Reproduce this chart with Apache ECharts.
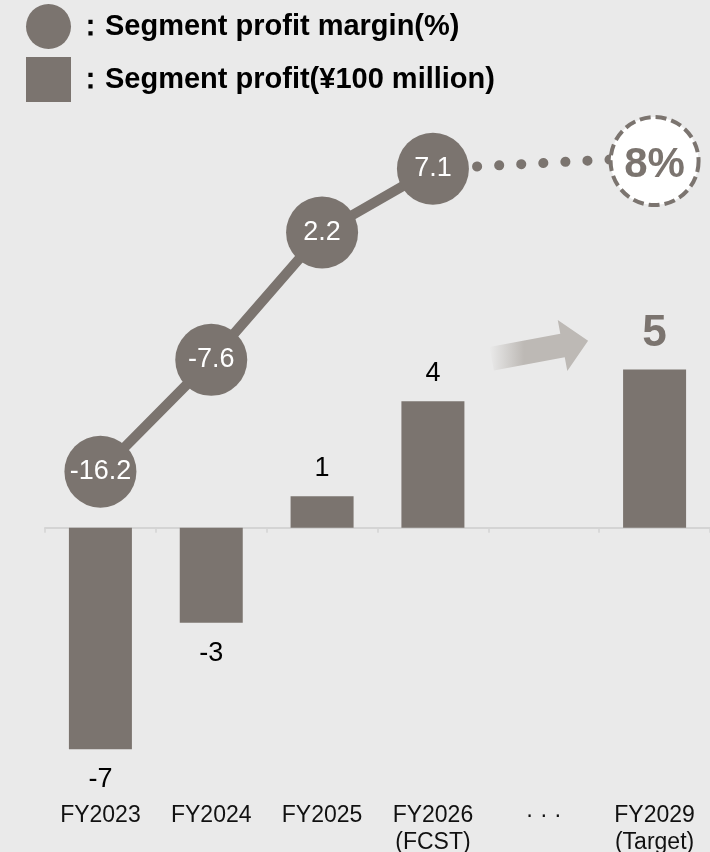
<!DOCTYPE html>
<html>
<head>
<meta charset="utf-8">
<script src="https://cdn.jsdelivr.net/npm/echarts@6.0.0/dist/echarts.min.js"></script>
<style>
  html, body { margin: 0; padding: 0; background: #eaeaea; }
  #chart { width: 710px; height: 852px; }
</style>
</head>
<body>
<div id="chart"></div>
<script>
// data
const categories = ["FY2023", "FY2024", "FY2025", "FY2026\n(FCST)", "· · ·", "FY2029\n(Target)"];
const profit = [-7, -3, 1, 4, null, 5];          // ¥100 million
const margin = [-16.2, -7.6, 2.2, 7.1, null, null]; // %
const targetMargin = [null, null, null, null, null, 8];

const profitName = "Segment profit(¥100 million)";
const marginName = "Segment profit margin(%)";

// arrow annotation, in [category index, profit value]
const arrowFrom = [3.53, 5.34];
const arrowTo = [4.4, 5.91];

const gray = "#7b746f";
const font = "'Liberation Sans', Arial, sans-serif";

const chart = echarts.init(document.getElementById("chart"));

// connector from last actual margin to the target
let lastIdx = margin.reduce((acc, v, i) => (v != null ? i : acc), -1);
let connector = categories.map((c, i) =>
  i === lastIdx ? margin[i] : targetMargin[i] != null ? targetMargin[i] : "-"
);

let barData = profit.map((v, i) => {
  if (v == null) return "-";
  let item = { value: v, label: { position: v < 0 ? "bottom" : "top", distance: v < 0 ? 17 : 14 } };
  if (i === profit.length - 1) {
    item.label.fontSize = 44;
    item.label.fontWeight = "bold";
    item.label.color = gray;
  }
  return item;
});

let option = {
  animation: false,
  backgroundColor: "#eaeaea",
  textStyle: { fontFamily: font },
  legend: {
    orient: "vertical",
    left: 26,
    top: 4,
    padding: 0,
    itemWidth: 45,
    itemHeight: 45,
    itemGap: 8,
    selectedMode: false,
    data: [
      { name: marginName, icon: "circle" },
      { name: profitName, icon: "rect" },
    ],
    formatter: (name) => "：" + name,
    textStyle: { fontSize: 29, fontWeight: "bold", color: "#000", fontFamily: font },
  },
  grid: {
    left: 45,
    right: 0,
    top: 148,
    bottom: 71,
    containLabel: false,
    outerBoundsMode: "none",
  },
  xAxis: [
    {
      type: "category",
      data: categories,
      position: "bottom",
      axisLine: { onZero: true, onZeroAxisIndex: 0, lineStyle: { color: "#d4d4d4", width: 2 } },
      axisTick: { show: true, length: 5, lineStyle: { color: "#d4d4d4", width: 1.5 } },
      axisLabel: { show: false },
      splitLine: { show: false },
    },
    {
      type: "category",
      data: categories,
      position: "bottom",
      axisLine: { show: false, onZero: false },
      axisTick: { show: false },
      axisLabel: {
        interval: 0,
        fontSize: 23,
        lineHeight: 27,
        margin: 21,
        color: "#111",
        fontFamily: font,
      },
    },
  ],
  yAxis: [
    { type: "value", min: -8, max: 12, show: false, splitLine: { show: false } },
    { type: "value", min: -40, max: 8.7, show: false, splitLine: { show: false } },
  ],
  series: [
    {
      name: profitName,
      type: "bar",
      xAxisIndex: 0,
      yAxisIndex: 0,
      barWidth: 63,
      itemStyle: { color: gray },
      label: { show: true, fontSize: 27, color: "#000", fontFamily: font },
      emphasis: { disabled: true },
      data: barData,
      z: 2,
    },
    {
      name: "connector",
      type: "line",
      xAxisIndex: 0,
      yAxisIndex: 1,
      connectNulls: true,
      showSymbol: false,
      symbol: "none",
      lineStyle: { color: gray, width: 10, type: [0.1, 22], cap: "round" },
      emphasis: { disabled: true },
      data: connector,
      z: 3,
    },
    {
      name: marginName,
      type: "line",
      xAxisIndex: 0,
      yAxisIndex: 1,
      symbol: "circle",
      symbolSize: 72,
      showAllSymbol: true,
      lineStyle: { color: gray, width: 10 },
      itemStyle: { color: gray },
      label: { show: true, position: "inside", color: "#fff", fontSize: 27, fontFamily: font },
      emphasis: { disabled: true },
      data: margin.map((v) => (v == null ? "-" : v)),
      z: 4,
    },
    {
      name: "target",
      type: "scatter",
      xAxisIndex: 0,
      yAxisIndex: 1,
      symbol: "circle",
      symbolSize: 88,
      symbolOffset: [0, 4],
      itemStyle: { color: "#fff", opacity: 1, borderColor: gray, borderWidth: 4, borderType: [11, 5] },
      label: {
        show: true,
        position: "inside",
        offset: [0, 4],
        formatter: (p) => p.value + "%",
        color: gray,
        fontSize: 42,
        fontWeight: "bold",
        fontFamily: font,
      },
      emphasis: { disabled: true },
      data: targetMargin.map((v) => (v == null ? "-" : v)),
      z: 5,
    },
  ],
};
chart.setOption(option);

// gradient arrow, placed through the axes
function toPx(pt) {
  let i = Math.floor(pt[0]);
  let f = pt[0] - i;
  let p1 = chart.convertToPixel({ seriesIndex: 0 }, [i, pt[1]]);
  let p2 = chart.convertToPixel({ seriesIndex: 0 }, [i + 1, pt[1]]);
  return [p1[0] + (p2[0] - p1[0]) * f, p1[1]];
}
let a = toPx(arrowFrom);
let b = toPx(arrowTo);
let dx = b[0] - a[0], dy = b[1] - a[1];
let len = Math.sqrt(dx * dx + dy * dy);
let ux = dx / len, uy = dy / len;
let nx = -uy, ny = ux;
let hw = 12, hh = 26, hl = 26;
let base = [b[0] - ux * hl, b[1] - uy * hl];
let pts = [
  [a[0] + nx * hw, a[1] + ny * hw],
  [base[0] + nx * hw, base[1] + ny * hw],
  [base[0] + nx * hh, base[1] + ny * hh],
  b,
  [base[0] - nx * hh, base[1] - ny * hh],
  [base[0] - nx * hw, base[1] - ny * hw],
  [a[0] - nx * hw, a[1] - ny * hw],
];
chart.setOption({
  graphic: [
    {
      type: "polygon",
      shape: { points: pts },
      style: {
        fill: new echarts.graphic.LinearGradient(0, 0, 1, 0, [
          { offset: 0, color: "rgba(189,185,181,0)" },
          { offset: 0.35, color: "rgba(189,185,181,1)" },
          { offset: 1, color: "rgba(189,185,181,1)" },
        ]),
      },
      z: 1,
    },
  ],
});
</script>
</body>
</html>
